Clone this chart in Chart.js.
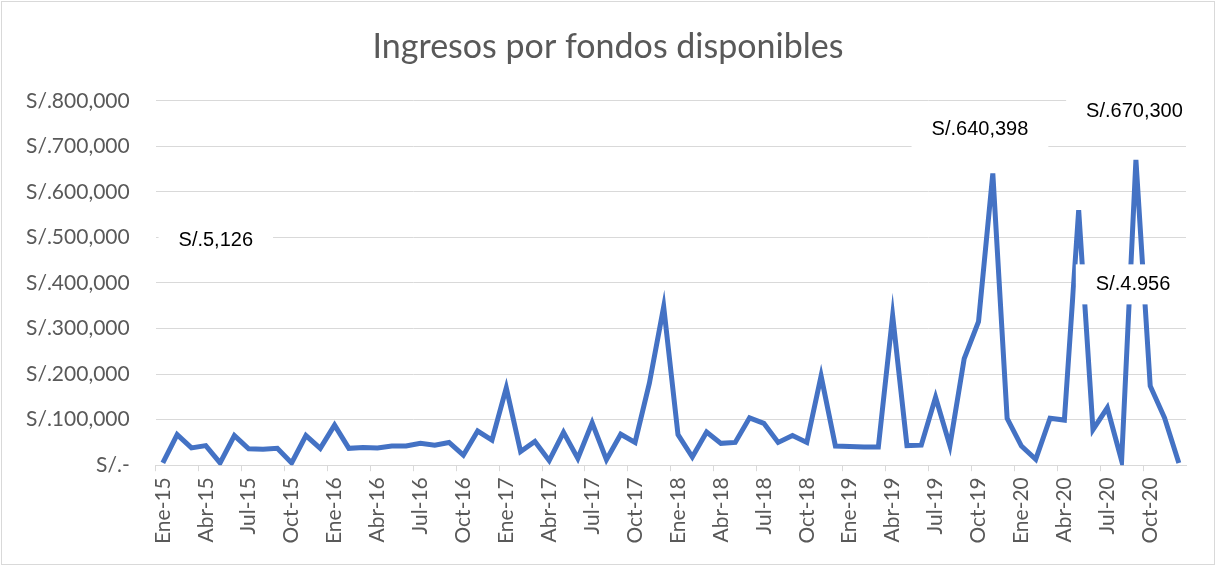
<!DOCTYPE html>
<html>
<head>
<meta charset="utf-8">
<script src="https://cdn.jsdelivr.net/npm/chart.js@4"></script>
<style>
  html, body { margin: 0; padding: 0; background: #fff; }
  #wrap { width: 1216px; height: 566px; }
</style>
</head>
<body>
<div id="wrap"><canvas id="myChart" width="1216" height="566"></canvas></div>
<script>
// Categories: monthly, Ene-15 .. Dic-20
const months = ['Ene', 'Feb', 'Mar', 'Abr', 'May', 'Jun', 'Jul', 'Ago', 'Sep', 'Oct', 'Nov', 'Dic'];
const years = ['15', '16', '17', '18', '19', '20'];

// Ingresos (S/.)
const ingresos2015 = [5126, 67000, 38000, 43000, 5000, 65000, 36000, 35000, 37000, 5000, 65000, 37000];
const ingresos2016 = [88000, 37000, 39000, 38000, 42000, 42000, 48000, 44000, 50000, 22000, 75000, 55000];
const ingresos2017 = [170000, 30000, 52000, 10000, 72000, 15000, 93000, 12000, 68000, 50000, 180000, 348000];
const ingresos2018 = [67000, 18000, 73000, 48000, 50000, 104000, 92000, 50000, 65000, 50000, 196000, 42000];
const ingresos2019 = [41000, 40000, 40000, 328000, 43000, 44000, 149000, 43000, 234000, 315000, 640398, 103000];
const ingresos2020 = [42000, 13000, 103000, 99000, 560000, 78000, 126000, 10000, 670300, 174000, 104000, 4956];

// Y axis ticks
const yMin = 0;
const yMax = 800000;
const yStep = 100000;

// Data labels shown on the chart (text, anchor month index, anchor value)
const labelTexts = ['S/.5,126', 'S/.640,398', 'S/.670,300', 'S/.4.956'];
const labelIndex = [3.7, 57.1, 67.9, 67.8];
const labelValue = [493000, 736000, 777000, 397000];

const labels = [];
years.forEach(y => months.forEach(m => labels.push(m + '-' + y)));
const values = [].concat(ingresos2015, ingresos2016, ingresos2017, ingresos2018, ingresos2019, ingresos2020);

const GRID = '#d9d9d9';
const TEXT = '#595959';
const FONT = 'Lato, "Open Sans", sans-serif';

// white-boxed data labels drawn over the line
const dataLabelPlugin = {
    id: 'dataLabels',
    afterDatasetsDraw(chart) {
        const c = chart.ctx;
        const xs = chart.scales.x, ys = chart.scales.y;
        c.save();
        c.font = '20px "Liberation Sans", Arial, sans-serif';
        c.textAlign = 'center';
        c.textBaseline = 'middle';
        labelTexts.forEach((t, k) => {
            const x = xs.left + (labelIndex[k] + 0.5) * (xs.width / labels.length);
            const y = ys.getPixelForValue(labelValue[k]);
            const w = c.measureText(t).width;
            c.fillStyle = '#fff';
            c.fillRect(x - w / 2 - 20, y - 20, w + 40, 40);
            c.fillStyle = '#000';
            c.fillText(t, x, y);
        });
        c.restore();
    }
};

// outer frame + title centred on the whole canvas
const framePlugin = {
    id: 'frame',
    afterLayout(chart) {
        if (chart.titleBlock) {
            chart.titleBlock.left = 0;
            chart.titleBlock.right = chart.width;
            chart.titleBlock.width = chart.width;
        }
    },
    beforeDraw(chart) {
        const c = chart.ctx;
        c.save();
        c.fillStyle = '#fff';
        c.fillRect(0, 0, chart.width, chart.height);
        c.strokeStyle = GRID;
        c.lineWidth = 1;
        c.strokeRect(1.5, 1.5, chart.width - 3, chart.height - 3);
        c.restore();
    }
};

const ctx = document.getElementById('myChart').getContext('2d');

const config = {
    type: 'line',
    data: {
        labels: labels,
        datasets: [{
            label: 'Ingresos',
            data: values,
            borderColor: '#4472C4',
            borderWidth: 5,
            pointRadius: 0,
            tension: 0,
            fill: false
        }]
    },
    options: {
        responsive: false,
        animation: false,
        layout: { padding: { left: 0, right: 30, top: 0, bottom: 16 } },
        plugins: {
            legend: { display: false },
            tooltip: { enabled: false },
            title: {
                display: true,
                text: 'Ingresos por fondos disponibles',
                color: TEXT,
                font: { family: FONT, size: 34, weight: 'normal' },
                padding: { top: 27, bottom: 33 }
            }
        },
        scales: {
            x: {
                offset: true,
                grid: {
                    offset: true,
                    drawOnChartArea: false,
                    drawTicks: true,
                    tickLength: 6,
                    color: c => (c.index % 3 === 0 ? GRID : 'rgba(0,0,0,0)')
                },
                border: { display: true, color: GRID, width: 1 },
                ticks: {
                    autoSkip: false,
                    maxRotation: 90,
                    minRotation: 90,
                    padding: 6,
                    color: TEXT,
                    font: { family: FONT, size: 21 },
                    callback: function (val, i) { return i % 3 === 0 ? labels[i] : ''; }
                }
            },
            y: {
                min: yMin,
                max: yMax,
                grid: { color: GRID, lineWidth: 1, drawTicks: false },
                border: { display: false },
                ticks: {
                    stepSize: yStep,
                    padding: 26,
                    color: TEXT,
                    font: { family: FONT, size: 21 },
                    callback: v => (v === 0 ? 'S/.-' : 'S/.' + v.toLocaleString('en-US'))
                }
            }
        }
    },
    plugins: [framePlugin, dataLabelPlugin]
};

const myChart = new Chart(ctx, config);
</script>
</body>
</html>
